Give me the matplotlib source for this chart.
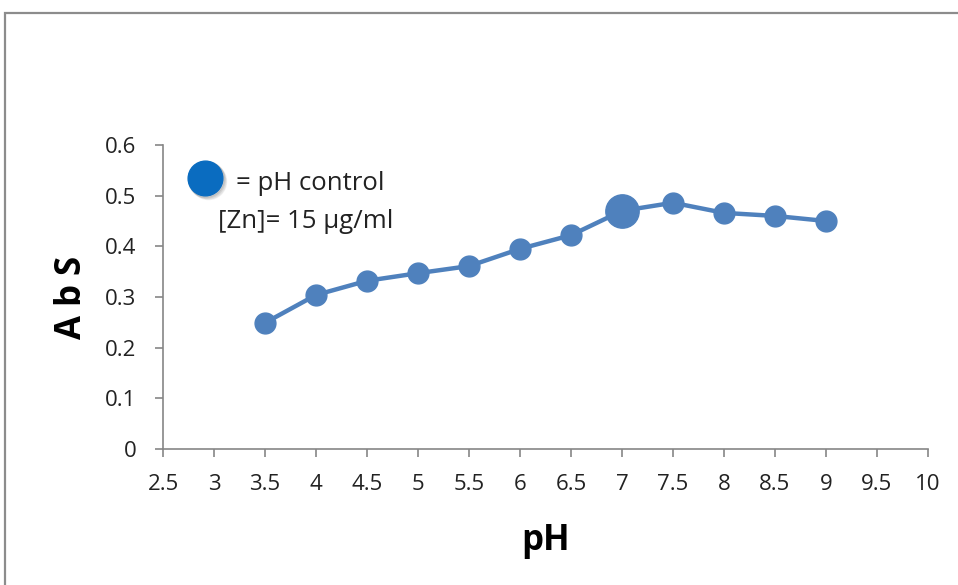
import matplotlib
matplotlib.use("Agg")
import matplotlib.pyplot as plt
from matplotlib.patches import Rectangle
from matplotlib.ticker import FuncFormatter

plt.rcParams['font.family'] = ['Open Sans', 'DejaVu Sans']

# Absorbance vs pH for [Zn] = 15 µg/ml
ph = [3.5, 4, 4.5, 5, 5.5, 6, 6.5, 7, 7.5, 8, 8.5, 9]
absorbance = [0.249, 0.304, 0.332, 0.347, 0.361, 0.395, 0.422, 0.470, 0.486, 0.466, 0.460, 0.450]
optimum_ph = 7
x_ticks = [2.5, 3, 3.5, 4, 4.5, 5, 5.5, 6, 6.5, 7, 7.5, 8, 8.5, 9, 9.5, 10]
y_ticks = [0, 0.1, 0.2, 0.3, 0.4, 0.5, 0.6]

line_color = '#4F81BD'
axis_color = '#868686'
text_color = '#222222'

fig = plt.figure(figsize=(9.58, 5.85), dpi=100)

# chart area border
fig.add_artist(Rectangle((5 / 958, -0.1), 1.2, 1 - 13 / 585 + 0.1,
                         transform=fig.transFigure, fill=False,
                         edgecolor='#8C8C8C', linewidth=1.6))

ax = fig.add_axes([163 / 958, 1 - 449 / 585, (928 - 163) / 958, (449 - 145) / 585])

ax.plot(ph, absorbance, color=line_color, linewidth=3.2, marker='o',
        markersize=15, markerfacecolor=line_color, markeredgecolor=line_color,
        solid_capstyle='round', zorder=3)
i = ph.index(optimum_ph)
ax.plot([ph[i]], [absorbance[i]], 'o', color=line_color, markersize=24, zorder=4)

ax.set_xlim(2.5, 10)
ax.set_ylim(0, 0.6)
ax.set_xticks(x_ticks)
ax.set_yticks(y_ticks)
ax.xaxis.set_major_formatter(FuncFormatter(lambda v, p: f"{v:g}"))
ax.yaxis.set_major_formatter(FuncFormatter(lambda v, p: f"{v:g}"))

for side in ('top', 'right'):
    ax.spines[side].set_visible(False)
for side in ('left', 'bottom'):
    ax.spines[side].set_color(axis_color)
    ax.spines[side].set_linewidth(1.2)
ax.tick_params(axis='both', direction='out', color=axis_color, width=1.2,
               length=6, labelsize=16, labelcolor=text_color)
ax.tick_params(axis='x', pad=12)
ax.tick_params(axis='y', pad=13)

ax.set_xlabel('pH', fontsize=25, fontweight='bold', labelpad=20, color='black')
ax.set_ylabel('A b S', fontsize=25, fontweight='bold', labelpad=11, color='black')

# legend key: shaded blue dot with caption
cx, cy = 205 / 958, 1 - 178 / 585
for dx, dy, a in [(3, -3, 0.10), (2, -2, 0.15), (1, -1, 0.2)]:
    fig.lines.append(plt.Line2D([cx + dx / 958], [cy + dy / 585], marker='o',
                                markersize=26, color='#808080', alpha=a,
                                linestyle='none', transform=fig.transFigure))
fig.lines.append(plt.Line2D([cx], [cy], marker='o', markersize=25,
                            color='#0A6CC0', linestyle='none',
                            transform=fig.transFigure))
fig.text(236 / 958, 1 - 183 / 585, '= pH control', fontsize=18.5,
         va='center', ha='left', color=text_color)
fig.text(218 / 958, 1 - 222 / 585, '[Zn]= 15 µg/ml', fontsize=18.5,
         va='center', ha='left', color=text_color)

fig.savefig('out.png', dpi=100)
